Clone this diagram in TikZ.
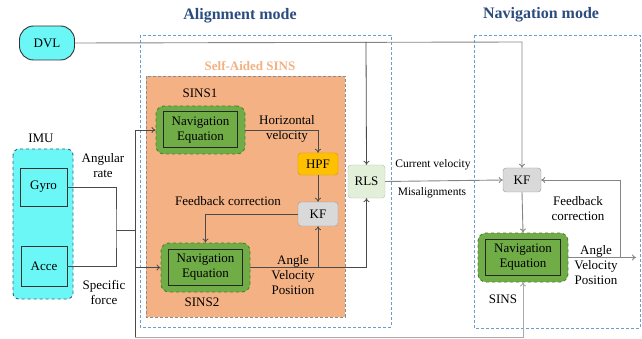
\documentclass[tikz,border=0pt]{standalone}
\usepackage{fontspec}
\setmainfont{Liberation Serif}
\usetikzlibrary{arrows.meta}

\definecolor{Cyan}{HTML}{6CF7F7}
\definecolor{Orange}{HTML}{F4B183}
\definecolor{SelfAid}{HTML}{F2B183}
\definecolor{NavGreen}{HTML}{70AD47}
\definecolor{NavBorder}{HTML}{4E7D32}
\definecolor{Hpf}{HTML}{FFC000}
\definecolor{KfGray}{HTML}{D9D9D9}
\definecolor{RlsGreen}{HTML}{E2F0D9}
\definecolor{Frame}{HTML}{6A9FCB}
\definecolor{Title}{HTML}{2B4C7E}
\definecolor{Wire}{HTML}{4A4A4A}
\definecolor{WireGray}{HTML}{858585}

\tikzset{
  txt/.style={font=\fontsize{13}{15}\selectfont, align=center, inner sep=0pt},
  smalltxt/.style={font=\fontsize{11.5}{13}\selectfont, align=center, inner sep=0pt},
  modetitle/.style={font=\fontsize{16}{18}\selectfont\bfseries, text=Title, inner sep=0pt},
  navouter/.style={draw=NavBorder, dashed, line width=0.9pt, fill=NavGreen, rounded corners=8pt,
    minimum width=89pt, minimum height=48pt},
  navinner/.style={draw=black!85, line width=1pt, minimum width=74pt, minimum height=36pt,
    txt},
  smallbox/.style={rounded corners=3pt, txt, minimum width=40pt, minimum height=23pt},
  sensor/.style={draw=black!80, line width=0.8pt, txt, minimum width=47pt, minimum height=38pt},
  wire/.style={draw=Wire, line width=0.8pt},
  wiregray/.style={draw=WireGray, line width=0.9pt},
  arr/.style={-{To[length=4pt,width=6pt]}},
}

\begin{document}
\begin{tikzpicture}[x=1pt, y=-1pt]
 \useasboundingbox (0,0) rectangle (642,339);

 %%%%%%%%%% Mode frames %%%%%%%%%%
 \draw [Frame, densely dashed, line width=0.6pt] (140,35) rectangle (391,327);
 \draw [Frame, densely dashed, line width=0.6pt] (474,35) rectangle (640,328);
 \node [modetitle] (titleA) at (240,16) {Alignment mode};
 \node [modetitle] (titleN) at (541,15) {Navigation mode};

 % Self-aided SINS block
 \fill [Orange] (146,76) rectangle (345,317);
 \draw [black!45, densely dashed, line width=0.5pt] (146,76) rectangle (345,317);
 \node [txt, font=\fontsize{13}{15}\selectfont\bfseries, text=SelfAid] (selfaid) at (250,66) {Self-Aided SINS};

 %%%%%%%%%% Sensors %%%%%%%%%%
 \node [draw=black!80, line width=0.9pt, fill=Cyan, rounded corners=14pt, minimum width=55pt,
   minimum height=34pt, txt] (dvl) at (47,43) {DVL};
 \draw [draw=Frame!60!black, dashed, line width=0.9pt, fill=Cyan, rounded corners=6pt] (13,149) rectangle (73,299);
 \node [txt] (imu) at (41,138) {IMU};
 \node [sensor] (gyro) at (43.5,187) {Gyro};
 \node [sensor, minimum width=46pt, minimum height=40pt] (acce) at (44,266) {Acce};
 \node [txt] (angrate) at (103,166) {Angular\\rate};
 \node [txt] (spforce) at (104,292) {Specific\\force};

 %%%%%%%%%% Alignment blocks %%%%%%%%%%
 \node [navouter] (nav1) at (200.5,130) {};
 \node [navinner] (nav1in) at (nav1.center) {Navigation\\Equation};
 \node [txt] (sins1) at (200,93) {SINS1};
 \node [navouter, minimum height=49pt] (nav2) at (205.5,267.5) {};
 \node [navinner] (nav2in) at (nav2.center) {Navigation\\Equation};
 \node [txt] (sins2) at (202,302) {SINS2};

 \node [smallbox, fill=Hpf, draw=Hpf!80!black, line width=0.4pt, minimum height=22pt] (hpf) at (318,164) {HPF};
 \node [smallbox, fill=KfGray, draw=black!40, line width=0.4pt, minimum height=24pt] (kf1) at (318,214) {KF};
 \node [smallbox, fill=RlsGreen, draw=RlsGreen!60!black!60, line width=0.4pt, minimum width=37pt,
   minimum height=33pt] (rls) at (366.5,181.5) {RLS};

 \node [txt] (horvel) at (287,129) {Horizontal\\velocity};
 \node [txt] (fbc1) at (228,201) {Feedback correction};
 \node [txt] (avp1) at (293,275) {Angle\\Velocity\\Position};
 \node [smalltxt] (curvel) at (433,165) {Current velocity};
 \node [smalltxt] (misal) at (432,193) {Misalignments};

 %%%%%%%%%% Navigation blocks %%%%%%%%%%
 \node [smallbox, fill=KfGray, draw=black!40, line width=0.4pt, minimum width=38pt, minimum height=24pt] (kf2) at (522,180) {KF};
 \node [navouter, minimum width=90pt, minimum height=49pt] (nav3) at (523,257.5) {};
 \node [navinner, minimum width=75pt] (nav3in) at (nav3.center) {Navigation\\Equation};
 \node [txt] (sins3) at (503,299) {SINS};
 \node [txt] (fbc2) at (578,209) {Feedback\\correction};
 \node [txt] (avp2) at (596,265) {Angle\\Velocity\\Position};

 %%%%%%%%%% Working points %%%%%%%%%%
 \coordinate (dvlturn) at (522,42);
 \coordinate (dvlsplit) at (366,42);
 \coordinate (imujoin) at (116,230);
 \coordinate (bustop) at (135,130);
 \coordinate (busbot) at (135,337);
 \coordinate (out) at (636,257.5);
 \coordinate (fbturn) at (620,257.5);

 %%%%%%%%%% Connectors %%%%%%%%%%
 \draw [wiregray, arr] (dvl.east) -- (dvlturn) -- (kf2.north);
 \draw [wire, arr] (dvlsplit) -- (rls.north);

 \draw [wire] (gyro.east) -| (imujoin) |- (acce.east);
 \draw [wire] (imujoin) -- (bustop |- imujoin);
 \draw [wire] (bustop) -- (busbot);
 \draw [wire, arr] (bustop) -- (nav1.west);
 \draw [wire, arr] (bustop |- nav2.west) -- (nav2.west);
 \draw [wiregray, draw=WireGray!70, arr] (busbot) -- (nav3.south |- busbot) -- (nav3.south);

 \draw [wire, arr] (nav1.east) -| (hpf.north);
 \draw [wire, arr] (hpf.south) -- (kf1.north);
 \draw [wire, arr] (kf1.west) -| (nav2.north);
 \draw [wire, arr] (nav2.east) -| (rls.south);
 \draw [wire, arr] (kf1.south |- nav2.east) -- (kf1.south);

 \draw [wiregray, arr] (rls.east) -- (kf2.west);
 \draw [wiregray, arr] (kf2.south) -- (nav3.north);
 \draw [wiregray, arr] (nav3.east) -- (out);
 \draw [wiregray, arr] (fbturn) |- (kf2.east);

\end{tikzpicture}
\end{document}
